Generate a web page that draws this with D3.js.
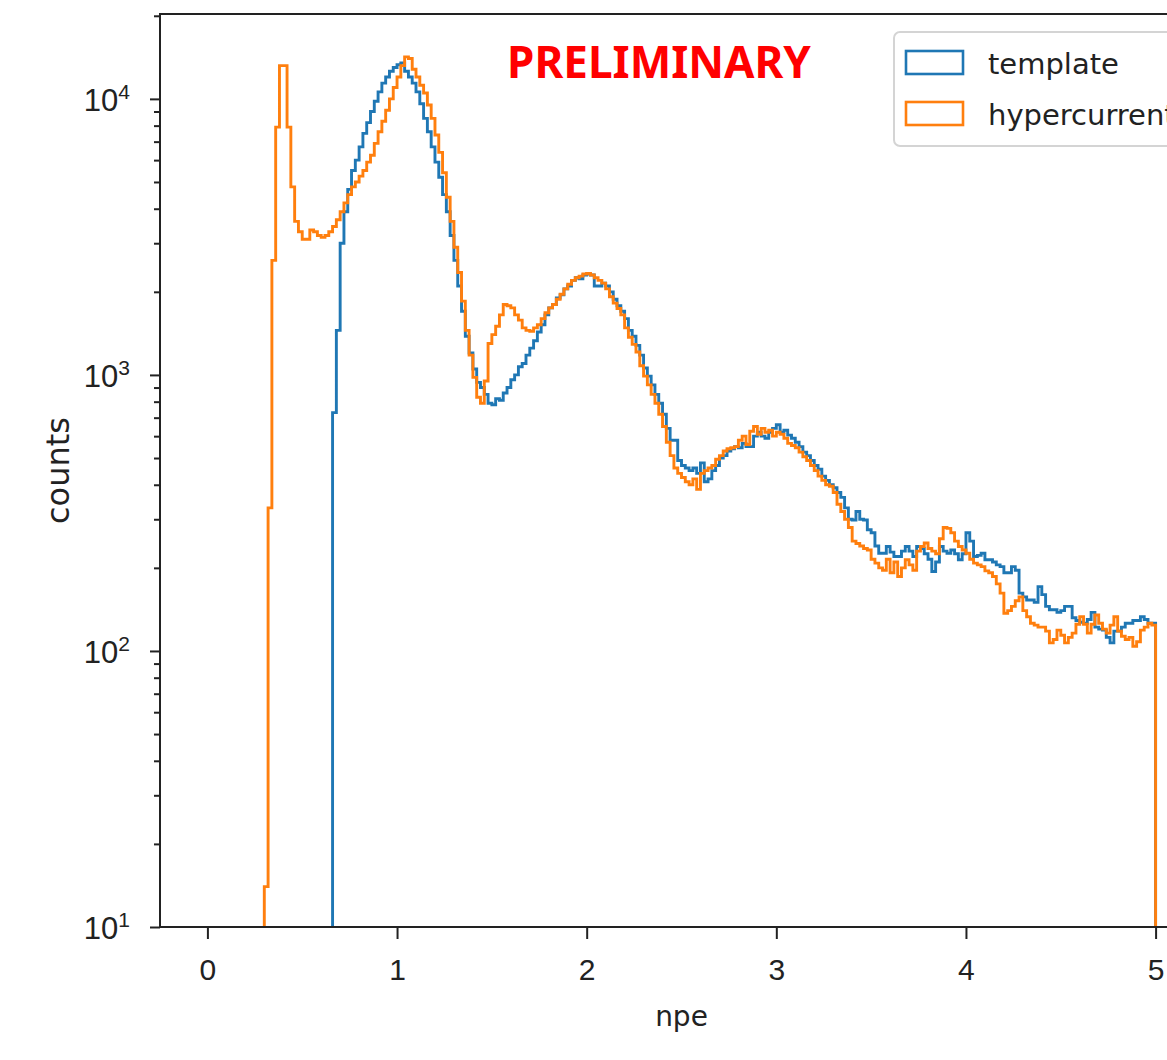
<!DOCTYPE html>
<html>
<head>
<meta charset="utf-8">
<script src="https://cdn.jsdelivr.net/npm/d3@7"></script>
<style>
  body { margin: 0; background: #fff; }
  svg { display: block; font-family: "DejaVu Sans", sans-serif; }
</style>
</head>
<body>
<div id="chart"></div>
<script>
// histogram bins: width 0.02 npe, range 0..5
var binWidth = 0.02;
var histRange = [0, 5];

// template: first filled bin starts at npe 0.66
var templateStart = 0.66;
var templateCounts = [
  730, 1450, 3000, 3900, 4700,
  5500, 6000, 6700, 7500, 8200, 9000, 9800, 10600, 11400, 12000, 12600, 13000, 13300, 13500,
  12600, 12000, 11400, 10600, 9600, 8500, 7600, 6700, 5900, 5200, 4500, 3900, 3200, 2600, 2100, 1700, 1380, 1200, 1050, 940,
  900, 850, 790, 780, 820, 810, 860, 900, 960, 1000, 1070, 1100, 1180, 1250, 1330, 1430, 1520, 1650, 1750,
  1800, 1900, 1950, 2050, 2100, 2200, 2250, 2230, 2300, 2320, 2300, 2100, 2100, 2150, 2100, 2000, 1880, 1780, 1700, 1600,
  1450, 1380, 1280, 1180, 1060, 990, 920, 850, 790, 720, 640, 580, 580, 490, 470, 460, 450, 460, 440, 480,
  410, 420, 450, 470, 500, 510, 530, 540, 550, 545, 565, 550, 550, 600, 620, 600, 590, 620, 640, 660,
  620, 630, 605, 590, 570, 550, 525, 510, 490, 470, 455, 430, 415, 400, 390, 375, 360, 330, 300, 298,
  320, 300, 298, 275, 268, 240, 226, 226, 239, 228, 220, 220, 230, 239, 230, 220, 239, 235, 225, 215,
  194, 210, 239, 230, 226, 232, 225, 214, 225, 268, 250, 220, 222, 226, 214, 214, 210, 205, 202, 192,
  192, 202, 196, 162, 157, 153, 153, 150, 171, 160, 145, 141, 141, 138, 140, 145, 145, 132, 129, 127,
  126, 130, 138, 122, 120, 119, 112, 107, 118, 118, 122, 126, 126, 129, 129, 133, 130, 126, 126
];

// hypercurrent: first filled bin starts at npe 0.30
var hyperStart = 0.30;
var hyperCounts = [
  14, 330, 2600, 7900, 13200, 13200, 7900, 4800, 3600, 3300,
  3100, 3100, 3350, 3300, 3200, 3150, 3200, 3300, 3450, 3650, 3900, 4200,
  4500, 4800, 5000, 5250, 5500, 5900, 6250, 6900, 7600, 8300, 9100, 10000, 11000, 12000, 13200, 14200, 14000,
  12800, 12000, 11200, 10500, 9500, 8500, 7400, 6400, 5400, 4400, 3600, 2900, 2350, 1850, 1450, 1180, 980, 830, 790,
  950, 1300, 1400, 1500, 1650, 1800, 1780, 1750, 1650, 1580, 1480, 1450, 1440, 1480, 1520, 1600, 1680, 1750,
  1800, 1880, 1960, 2050, 2130, 2200, 2250, 2280, 2320, 2330, 2300, 2250, 2200, 2150, 2050, 1920, 1820, 1740, 1650, 1480,
  1370, 1290, 1210, 1080, 990, 920, 850, 790, 720, 650, 570, 510, 460, 440, 425, 410, 400, 420, 385, 440,
  450, 460, 470, 495, 510, 530, 540, 545, 550, 580, 600, 560, 625, 650, 610, 640, 620, 630, 600, 620,
  610, 590, 565, 555, 545, 525, 505, 490, 470, 450, 430, 415, 400, 395, 375, 340, 320, 300, 280, 250,
  245, 240, 235, 232, 215, 208, 200, 196, 215, 192, 210, 186, 200, 214, 205, 196, 230, 239, 246, 235,
  230, 225, 255, 280, 278, 268, 250, 239, 232, 226, 215, 208, 205, 202, 195, 192, 186, 175, 162, 137,
  140, 145, 152, 157, 140, 133, 126, 124, 122, 122, 118, 107, 110, 119, 114, 107, 112, 116, 125, 133,
  125, 116, 125, 135, 126, 120, 116, 124, 133, 118, 113, 110, 112, 104, 108, 119, 122, 126, 124
];

var seriesNames = ["template", "hypercurrent"];
var seriesColors = ["#1f77b4", "#ff7f0e"];
var xTicks = [0, 1, 2, 3, 4, 5];
var yMajor = [10, 100, 1000, 10000];

var width = 1167, height = 1060;
// plot box (right edge falls outside the picture, like the cropped original)
var padLeft = 160, padTop = 14, padRight = 1203, padBottom = 927;

var svg = d3.select("#chart").append("svg")
  .attr("width", width).attr("height", height);

svg.append("rect").attr("width", width).attr("height", height).attr("fill", "#fff");

var x = d3.scaleLinear().domain([-0.25, 5.25]).range([padLeft, padRight]);
var y = d3.scaleLog().domain([10, 20300]).range([padBottom, padTop]);

svg.append("defs").append("clipPath").attr("id", "plotclip")
  .append("rect").attr("x", padLeft).attr("y", padTop)
  .attr("width", padRight - padLeft).attr("height", padBottom - padTop);

// step outline like matplotlib histtype='step'
function stepPoints(start, counts) {
  var pts = [[start, y.domain()[0]]];
  counts.forEach(function (c, i) {
    var x0 = start + i * binWidth;
    pts.push([x0, c]);
    pts.push([x0 + binWidth, c]);
  });
  pts.push([start + counts.length * binWidth, y.domain()[0]]);
  return pts;
}

var line = d3.line()
  .x(function (d) { return x(d[0]); })
  .y(function (d) { return y(Math.max(d[1], y.domain()[0])); });

var plot = svg.append("g").attr("clip-path", "url(#plotclip)");

[[templateStart, templateCounts], [hyperStart, hyperCounts]].forEach(function (s, k) {
  plot.append("path")
    .attr("d", line(stepPoints(s[0], s[1])))
    .attr("fill", "none")
    .attr("stroke", seriesColors[k])
    .attr("stroke-width", 2.9)
    .attr("stroke-linejoin", "miter");
});

// x axis
var xAxis = svg.append("g")
  .attr("transform", "translate(0," + padBottom + ")")
  .call(d3.axisBottom(x).tickValues(xTicks).tickSize(12).tickFormat(d3.format("d")));
xAxis.selectAll("text").attr("y", 53).attr("dy", 0)
  .attr("font-size", 30).attr("fill", "#222");

// y axis minor ticks
var yMinor = [];
[10, 100, 1000, 10000].forEach(function (dec) {
  for (var m = 2; m <= 9; m++) {
    if (dec * m <= y.domain()[1]) yMinor.push(dec * m);
  }
});
svg.append("g")
  .attr("transform", "translate(" + padLeft + ",0)")
  .call(d3.axisLeft(y).tickValues(yMinor).tickSize(6).tickFormat(""));

var yAxis = svg.append("g")
  .attr("transform", "translate(" + padLeft + ",0)")
  .call(d3.axisLeft(y).tickValues(yMajor).tickSize(10).tickFormat(""));

yAxis.selectAll(".tick").append("text")
  .attr("x", -30).attr("dy", "0.36em")
  .attr("text-anchor", "end")
  .attr("fill", "#222")
  .attr("font-size", 31)
  .each(function (d) {
    var t = d3.select(this);
    t.append("tspan").text("10");
    t.append("tspan").attr("dy", "-0.55em").attr("font-size", 21)
      .text(Math.round(Math.log10(d)));
  });

svg.selectAll(".domain").remove();
svg.selectAll(".tick line").attr("stroke", "#222").attr("stroke-width", 2);

// spines
svg.append("path")
  .attr("d", "M" + padRight + "," + padTop + "H" + padLeft + "V" + padBottom + "H" + padRight)
  .attr("fill", "none").attr("stroke", "#222").attr("stroke-width", 2);

// axis labels
svg.append("text").attr("x", (padLeft + padRight) / 2).attr("y", 1026)
  .attr("text-anchor", "middle").attr("font-size", 28).attr("fill", "#222").text("npe");

svg.append("text")
  .attr("transform", "translate(69," + ((padTop + padBottom) / 2) + ") rotate(-90)")
  .attr("text-anchor", "middle").attr("font-size", 32).attr("fill", "#222").text("counts");

// watermark
svg.append("text").attr("x", 659).attr("y", 78)
  .attr("text-anchor", "middle")
  .attr("font-family", "'Noto Sans', sans-serif")
  .attr("font-weight", "bold").attr("font-size", 44)
  .attr("fill", "#ff0000").text("PRELIMINARY");

// legend
var legend = svg.append("g");
legend.append("rect").attr("x", 894).attr("y", 32).attr("width", 300).attr("height", 114)
  .attr("rx", 6).attr("fill", "#fff").attr("fill-opacity", 0.8)
  .attr("stroke", "#d4d4d4").attr("stroke-width", 2);

seriesNames.forEach(function (name, i) {
  var yy = 51 + i * 51;
  legend.append("rect").attr("x", 906).attr("y", yy).attr("width", 57).attr("height", 23)
    .attr("fill", "none").attr("stroke", seriesColors[i]).attr("stroke-width", 2.6);
  legend.append("text").attr("x", 988).attr("y", yy + 23)
    .attr("font-size", 29).attr("fill", "#222").text(name);
});
</script>
</body>
</html>
